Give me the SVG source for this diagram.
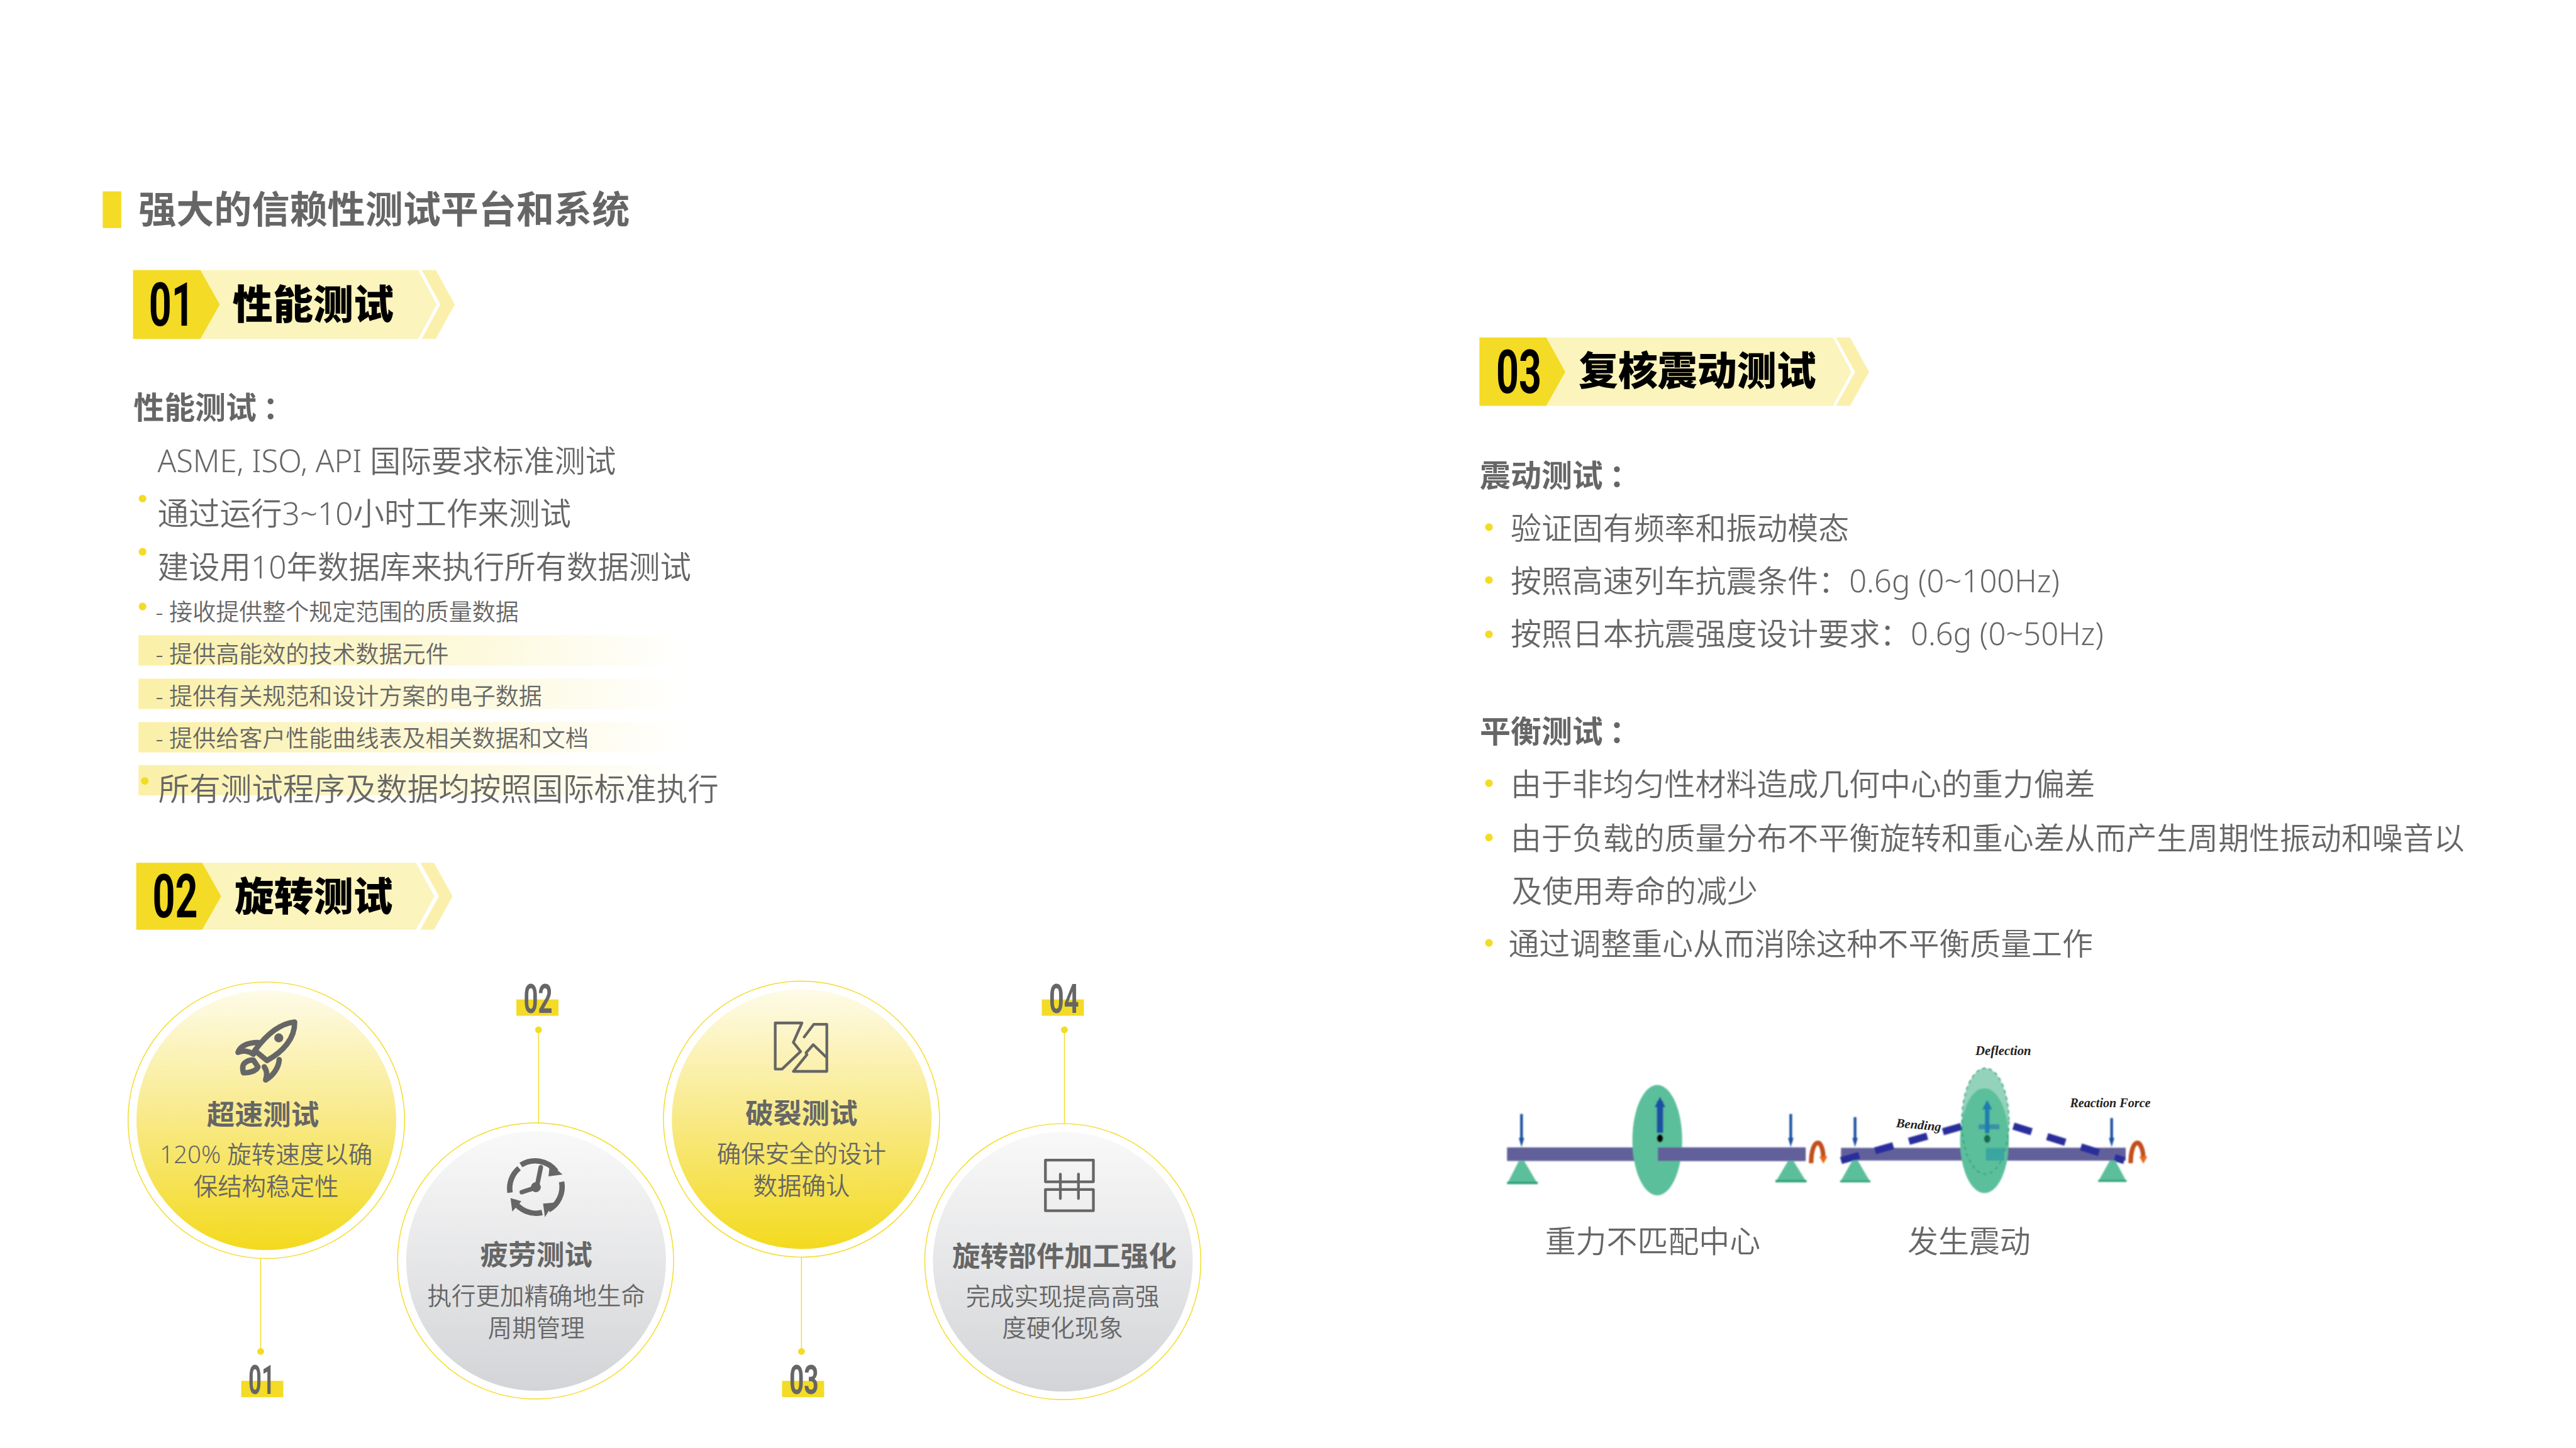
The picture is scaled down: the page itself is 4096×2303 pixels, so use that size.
<svg xmlns="http://www.w3.org/2000/svg" width="4096" height="2303" viewBox="0 0 4096 2303">
<style>
text{font-family:"Noto Sans","Noto Sans CJK SC",sans-serif;fill:#666}
.h{font-size:83.5px;font-weight:700;font-family:"Noto Sans CJK SC",sans-serif}
.t{font-size:87.5px;font-weight:900;fill:#000;font-family:"Noto Sans CJK SC",sans-serif}
.num{font-family:Roboto,"Liberation Sans",sans-serif;font-size:134px;font-weight:700;fill:#000}
.n2{font-family:Roboto,"Liberation Sans",sans-serif;font-size:91px;font-weight:700;fill:#666}
.sh{font-size:68px;font-weight:700;font-family:"Noto Sans CJK SC",sans-serif}
.b{font-size:68px;font-weight:350}
.bl{font-size:68.8px}
.s{font-size:51.5px;font-weight:350}
.ct{font-size:62px;font-weight:700;text-anchor:middle;font-family:"Noto Sans CJK SC",sans-serif}
.cb{font-size:53.5px;font-weight:350;text-anchor:middle}
.dot{fill:#F4DB25}
.y{fill:#F4DB25}
.l1{fill:#FBF4BC}
.l2{fill:#FAF0AB}
.ring{fill:none;stroke:#F4DB25;stroke-width:2}
.conn{stroke:#F4DB25;stroke-width:2;fill:none}
.ic{fill:none;stroke:#666;stroke-linejoin:round;stroke-linecap:round}
.fade{fill:url(#fade)}
.cap{font-family:"Liberation Serif",serif;font-style:italic;font-weight:700;font-size:28px;fill:#222}
</style>
<defs>
<linearGradient id="fade" x1="0" y1="0" x2="1" y2="0"><stop offset="0" stop-color="#FAF0A8"/><stop offset="1" stop-color="#FFFFFF"/></linearGradient>
<linearGradient id="gy" x1="0" y1="0" x2="0" y2="1"><stop offset="0" stop-color="#FEFBE8"/><stop offset=".45" stop-color="#F9EB90"/><stop offset="1" stop-color="#F3DA1E"/></linearGradient>
<linearGradient id="gg" x1="0" y1="0" x2="0" y2="1"><stop offset="0" stop-color="#F9F9F9"/><stop offset="1" stop-color="#D3D4D7"/></linearGradient>
<filter id="soft" x="-5%" y="-5%" width="110%" height="110%"><feGaussianBlur stdDeviation="1.2"/></filter>
</defs>
<rect width="4096" height="2303" fill="#fff"/>
<g transform="scale(0.7196)">

<g id="heading">
<rect class="y" x="227" y="423" width="41" height="81"/>
<text class="h" x="306" y="494">强大的信赖性测试平台和系统</text>
</g>

<g id="badge-01">
<polygon class="y" points="294,597 443,597 486,673 443,749 294,749"/>
<polygon class="l1" points="443,597 924,597 965,673 924,749 443,749 486,673"/>
<polygon class="l2" points="932,597 963,597 1005,673 963,749 932,749 973,673"/>
<text class="num" x="329" y="720" textLength="100" lengthAdjust="spacingAndGlyphs">01</text>
<text class="t" x="514" y="704" style="font-size:89px">性能测试</text>
</g>

<g id="section-01">
<text class="sh" x="295" y="925">性能测试<tspan dx="14">：</tspan></text>
<text class="b" x="348" y="1043">ASME, ISO, API 国际要求标准测试</text>
<circle class="dot" cx="315" cy="1102" r="8.5"/>
<text class="b bl" x="348" y="1161">通过运行3~10小时工作来测试</text>
<circle class="dot" cx="315" cy="1219.5" r="8.5"/>
<text class="b bl" x="348" y="1278">建设用10年数据库来执行所有数据测试</text>
<circle class="dot" cx="315" cy="1340.5" r="8.5"/>
<text class="s" x="344" y="1372">- 接收提供整个规定范围的质量数据</text>
<rect class="fade" x="306" y="1404" width="1214" height="67"/>
<text class="s" x="344" y="1465">- 提供高能效的技术数据元件</text>
<rect class="fade" x="306" y="1500" width="1214" height="67"/>
<text class="s" x="344" y="1558">- 提供有关规范和设计方案的电子数据</text>
<rect class="fade" x="306" y="1596" width="1214" height="67"/>
<text class="s" x="344" y="1651">- 提供给客户性能曲线表及相关数据和文档</text>
<rect class="fade" x="306" y="1691" width="1214" height="67"/>
<circle class="dot" cx="320" cy="1726" r="8.5"/>
<text class="b bl" x="350" y="1769">所有测试程序及数据均按照国际标准执行</text>
</g>

<g id="badge-02">
<polygon class="y" points="301,1907 447,1907 489,1981 447,2055 301,2055"/>
<polygon class="l1" points="447,1907 919,1907 960,1981 919,2055 447,2055 489,1981"/>
<polygon class="l2" points="929,1907 959,1907 1000,1981 959,2055 929,2055 970,1981"/>
<text class="num" x="337" y="2028" textLength="100" lengthAdjust="spacingAndGlyphs">02</text>
<text class="t" x="518" y="2012">旋转测试</text>
</g>

<g id="connectors">
<path class="conn" d="M576 2782V2987M1190 2276V2482M1771 2779V2987M2352 2276V2483"/>
<circle class="dot" cx="576" cy="2987" r="7.5"/>
<circle class="dot" cx="1190" cy="2276" r="7.5"/>
<circle class="dot" cx="1771" cy="2987" r="7.5"/>
<circle class="dot" cx="2352" cy="2276" r="7.5"/>
</g>

<g id="label-01"><rect class="y" x="533" y="3052" width="93" height="36"/><text class="n2" x="549" y="3081" textLength="58" lengthAdjust="spacingAndGlyphs">01</text></g>
<g id="label-02"><rect class="y" x="1141" y="2209" width="93" height="36"/><text class="n2" x="1157" y="2239" textLength="64" lengthAdjust="spacingAndGlyphs">02</text></g>
<g id="label-03"><rect class="y" x="1728" y="3052" width="93" height="36"/><text class="n2" x="1744" y="3081" textLength="65" lengthAdjust="spacingAndGlyphs">03</text></g>
<g id="label-04"><rect class="y" x="2302" y="2209" width="93" height="36"/><text class="n2" x="2318" y="2239" textLength="66" lengthAdjust="spacingAndGlyphs">04</text></g>

<g id="node-speed">
<circle class="ring" cx="588.5" cy="2476" r="305.5"/>
<circle cx="588.5" cy="2476" r="287" fill="url(#gy)"/>
<g class="ic" stroke-width="12">
<path d="M651 2259C620 2262 590 2285 563 2322L590 2344C625 2325 652 2295 651 2259Z"/>
<path d="M570 2304C548 2304 530 2312 526 2326C535 2321 548 2322 560 2330"/>
<path d="M617 2342C616 2360 603 2378 587 2387C591 2375 590 2366 584 2358"/>
<path d="M540 2350C534 2356 537 2368 538 2371C548 2372 566 2368 570 2358L560 2343C552 2342 546 2345 540 2350Z"/>
</g>
<circle cx="616" cy="2294" r="10" fill="#666"/>
<text class="ct" x="581" y="2486">超速测试</text>
<text class="cb" x="588" y="2571">120% 旋转速度以确</text>
<text class="cb" x="588" y="2642">保结构稳定性</text>
</g>

<g id="node-fatigue">
<circle class="ring" cx="1183.5" cy="2787" r="305"/>
<circle cx="1184.5" cy="2787" r="287" fill="url(#gg)"/>
<g class="ic" stroke-width="12" stroke-linecap="butt">
<path stroke-linecap="butt" d="M1151 2575A58 58 0 0 1 1229 2589"/>
<path stroke-linecap="butt" d="M1241 2612A58 58 0 0 1 1212 2674"/>
<path stroke-linecap="butt" d="M1198 2680A58 58 0 0 1 1135 2654"/>
<path stroke-linecap="butt" d="M1127 2636A58 58 0 0 1 1147 2582"/>
</g>
<polygon fill="#666" points="1215,2572 1243,2596 1212,2600"/>
<polygon fill="#666" points="1224,2658 1204,2690 1200,2660"/>
<polygon fill="#666" points="1128,2648 1152,2655 1132,2678"/>
<path class="ic" stroke-width="10" d="M1195 2580L1186 2624L1153 2635"/>
<circle cx="1184" cy="2624" r="11" fill="#666"/>
<text class="ct" x="1185" y="2796">疲劳测试</text>
<text class="cb" x="1185" y="2884">执行更加精确地生命</text>
<text class="cb" x="1185" y="2954">周期管理</text>
</g>

<g id="node-burst">
<circle class="ring" cx="1771" cy="2473.5" r="305"/>
<circle cx="1771.5" cy="2473.5" r="287" fill="url(#gy)"/>
<g class="ic" stroke-width="6">
<path d="M1772 2261H1713V2363H1728L1769 2324L1753 2304Z"/>
<path d="M1777 2292L1798 2264H1827V2368H1753L1783 2331L1781 2327L1797 2309L1825 2336"/>
</g>
<text class="ct" x="1771" y="2483">破裂测试</text>
<text class="cb" x="1771" y="2569">确保安全的设计</text>
<text class="cb" x="1771" y="2640">数据确认</text>
</g>

<g id="node-hardening">
<circle class="ring" cx="2348.5" cy="2788.5" r="305"/>
<circle cx="2348.5" cy="2788.5" r="287" fill="url(#gg)"/>
<g class="ic" stroke-width="6">
<rect x="2310" y="2564" width="106" height="48"/>
<rect x="2310" y="2629" width="106" height="47"/>
<path d="M2343 2595V2649M2383 2595V2649"/>
</g>
<text class="ct" x="2352" y="2799">旋转部件加工强化</text>
<text class="cb" x="2348" y="2885">完成实现提高高强</text>
<text class="cb" x="2348" y="2955">度硬化现象</text>
</g>

<g id="badge-03">
<polygon class="y" points="3269,746 3417,746 3459,822 3417,897 3269,897"/>
<polygon class="l1" points="3417,746 4050,746 4091,822 4050,897 3417,897 3459,822"/>
<polygon class="l2" points="4057,746 4088,746 4130,822 4088,897 4057,897 4099,822"/>
<text class="num" x="3306" y="869" textLength="100" lengthAdjust="spacingAndGlyphs">03</text>
<text class="t" x="3488" y="851">复核震动测试</text>
</g>

<g id="section-03">
<text class="sh" x="3270" y="1075">震动测试<tspan dx="14">：</tspan></text>
<circle class="dot" cx="3290" cy="1165" r="8.5"/>
<text class="b" x="3338" y="1192">验证固有频率和振动模态</text>
<circle class="dot" cx="3290" cy="1282" r="8.5"/>
<text class="b" x="3338" y="1309">按照高速列车抗震条件：0.6g (0~100Hz)</text>
<circle class="dot" cx="3290" cy="1402" r="8.5"/>
<text class="b" x="3338" y="1426">按照日本抗震强度设计要求：0.6g (0~50Hz)</text>
<text class="sh" x="3270" y="1641">平衡测试<tspan dx="14">：</tspan></text>
<circle class="dot" cx="3290" cy="1731" r="8.5"/>
<text class="b" x="3338" y="1758">由于非均匀性材料造成几何中心的重力偏差</text>
<circle class="dot" cx="3290" cy="1851" r="8.5"/>
<text class="b" x="3338" y="1878">由于负载的质量分布不平衡旋转和重心差从而产生周期性振动和噪音以</text>
<text class="b" x="3340" y="1994">及使用寿命的减少</text>
<circle class="dot" cx="3290" cy="2084" r="8.5"/>
<text class="b" x="3333" y="2111">通过调整重心从而消除这种不平衡质量工作</text>
</g>

<g id="figure-balanced" filter="url(#soft)">
<rect x="3330" y="2536" width="660" height="30" fill="#62609A"/>
<ellipse cx="3662" cy="2520" rx="55" ry="122" fill="#5CBF9B"/>
<rect x="3663" y="2536" width="324" height="30" fill="#62609A"/>
<polygon points="3356,2566 3368,2566 3398,2617 3330,2617" fill="#5CBF9B"/>
<rect x="3330" y="2612" width="68" height="5" fill="#2E9E78"/>
<polygon points="3951,2566 3963,2566 3992,2613 3923,2613" fill="#5CBF9B"/>
<rect x="3923" y="2608" width="69" height="5" fill="#2E9E78"/>
<rect x="3661" y="2434" width="14" height="70" fill="#1B4FA0"/>
<polygon points="3668,2424 3680,2447 3656,2447" fill="#1B4FA0"/>
<ellipse cx="3668" cy="2516" rx="7" ry="9" fill="#000"/>
<path d="M3362 2462V2525M3957 2462V2525" stroke="#1B4FA0" stroke-width="6" fill="none"/>
<polygon points="3356,2515 3368,2515 3362,2535" fill="#1B4FA0"/>
<polygon points="3951,2515 3963,2515 3957,2535" fill="#1B4FA0"/>
<path d="M4002 2571C4002 2540 4010 2526 4017 2526C4023 2526 4029 2540 4029 2560" stroke="#C24E1A" stroke-width="10" fill="none"/>
<polygon points="4020,2556 4038,2556 4029,2572" fill="#E8691C"/>
</g>

<g id="figure-vibrating" filter="url(#soft)">
<rect x="4068" y="2537" width="629" height="28" fill="#62609A"/>
<ellipse cx="4387" cy="2478" rx="52" ry="117" fill="#93D3BB"/>
<ellipse cx="4385" cy="2521" rx="54" ry="116" fill="#5CBF9B"/>
<ellipse cx="4387" cy="2478" rx="52" ry="117" fill="none" stroke="#2E9E78" stroke-width="2.5" stroke-dasharray="8 7"/>
<rect x="4437" y="2537" width="260" height="28" fill="#62609A"/>
<rect x="4388" y="2537" width="41" height="28" fill="#3BA5A0"/>
<rect x="4372" y="2485" width="46" height="11" fill="#3B8FA8"/>
<path d="M4068 2565L4337 2489M4449 2489L4694 2565" stroke="#2B2F9C" stroke-width="16" stroke-dasharray="42 36" fill="none"/>
<polygon points="4093,2565 4105,2565 4133,2613 4066,2613" fill="#5CBF9B"/>
<rect x="4066" y="2609" width="67" height="4" fill="#2E9E78"/>
<polygon points="4662,2565 4674,2565 4699,2612 4636,2612" fill="#5CBF9B"/>
<rect x="4636" y="2608" width="63" height="4" fill="#2E9E78"/>
<rect x="4386" y="2441" width="10" height="64" fill="#1F7DB0"/>
<polygon points="4391,2431 4402,2452 4380,2452" fill="#1F7DB0"/>
<ellipse cx="4391" cy="2517" rx="7" ry="9" fill="#12694F"/>
<path d="M4099 2469V2525M4666 2471V2525" stroke="#1B4FA0" stroke-width="6" fill="none"/>
<polygon points="4093,2515 4105,2515 4099,2535" fill="#1B4FA0"/>
<polygon points="4660,2515 4672,2515 4666,2535" fill="#1B4FA0"/>
<path d="M4708 2571C4708 2540 4716 2526 4723 2526C4729 2526 4736 2540 4736 2560" stroke="#C24E1A" stroke-width="10" fill="none"/>
<polygon points="4727,2556 4745,2556 4736,2572" fill="#E8691C"/>
</g>
<g id="figure-labels">
<text class="cap" x="4365" y="2332" textLength="123" lengthAdjust="spacingAndGlyphs">Deflection</text>
<text class="cap" x="4189" y="2491" textLength="100" lengthAdjust="spacingAndGlyphs" transform="rotate(5 4189 2491)">Bending</text>
<text class="cap" x="4574" y="2447" textLength="178" lengthAdjust="spacingAndGlyphs">Reaction Force</text>
<text class="b" x="3414" y="2768">重力不匹配中心</text>
<text class="b" x="4215" y="2768">发生震动</text>
</g>
</g>
</svg>
